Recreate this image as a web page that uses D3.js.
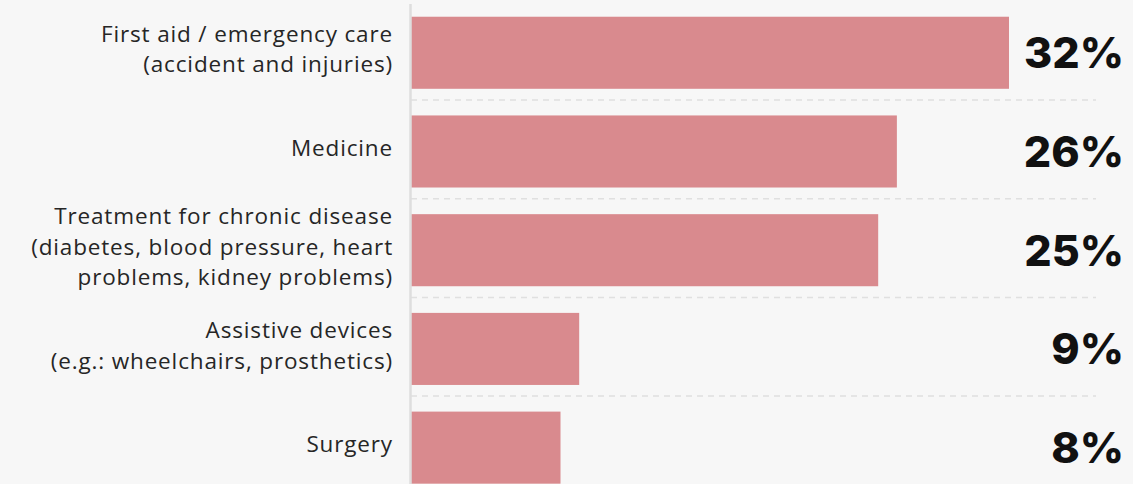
<!DOCTYPE html>
<html>
<head>
<meta charset="utf-8">
<script src="https://cdn.jsdelivr.net/npm/d3@7"></script>
<style>
  html, body { margin: 0; padding: 0; background: #f7f7f7; }
  #chart { width: 1133px; height: 484px; }
</style>
</head>
<body>
<div id="chart"></div>
<script>
// Categories, one entry per bar; each label is split into its display lines
const categories = [
  ['First aid / emergency care', '(accident and injuries)'],
  ['Medicine'],
  ['Treatment for chronic disease', '(diabetes, blood pressure, heart', 'problems, kidney problems)'],
  ['Assistive devices', '(e.g.: wheelchairs, prosthetics)'],
  ['Surgery'],
];
// Share of respondents, percent
const values = [32, 26, 25, 9, 8];

const W = 1133, H = 484;
const rows = categories.map((lines, i) => ({ key: `c${i}`, lines, value: values[i] }));

const svg = d3.select('#chart')
  .append('svg')
  .attr('width', W)
  .attr('height', H)
  .style('display', 'block');

svg.append('rect').attr('width', W).attr('height', H).attr('fill', '#f7f7f7');

// Scales
const x = d3.scaleLinear().domain([0, d3.max(values)]).range([411, 1009]);
const y = d3.scaleBand()
  .domain(rows.map((d) => d.key))
  .range([3.4, 497])
  .paddingInner(0.27)
  .paddingOuter(0.135);

// Dashed separators between rows
const g = svg.append('g');
g.selectAll('.sep')
  .data(rows.slice(1))
  .enter()
  .append('line')
  .attr('x1', x(0)).attr('x2', 1096)
  .attr('y1', (d) => y(d.key) - 15.5)
  .attr('y2', (d) => y(d.key) - 15.5)
  .attr('stroke', '#e0e0e0')
  .attr('stroke-width', 1.5)
  .attr('stroke-dasharray', '6,5');

// Bars
g.selectAll('.bar')
  .data(rows)
  .enter()
  .append('rect')
  .attr('x', x(0))
  .attr('y', (d) => y(d.key))
  .attr('width', (d) => x(d.value) - x(0))
  .attr('height', y.bandwidth())
  .attr('fill', '#d98a8e');

// Vertical axis line
svg.append('line')
  .attr('x1', 410.5).attr('x2', 410.5)
  .attr('y1', 4).attr('y2', H)
  .attr('stroke', '#dedede')
  .attr('stroke-width', 2.5);

// Category labels (multi-line, right aligned)
const lineH = 30.3;
const labels = svg.selectAll('.cat')
  .data(rows)
  .enter()
  .append('text')
  .attr('text-anchor', 'end')
  .attr('font-family', '"Open Sans", sans-serif')
  .attr('font-size', 22.5)
  .attr('font-weight', 400)
  .attr('letter-spacing', 0.85)
  .attr('fill', '#262626');

labels.selectAll('tspan')
  .data((d) => d.lines.map((t, j) => ({
    t,
    yy: y(d.key) + y.bandwidth() / 2 - (d.lines.length - 1) * lineH / 2 + j * lineH + 4.5,
  })))
  .enter()
  .append('tspan')
  .attr('x', 393)
  .attr('y', (d) => d.yy)
  .text((d) => d.t);

// Value labels
svg.selectAll('.val')
  .data(rows)
  .enter()
  .append('text')
  .attr('x', 1124)
  .attr('y', (d) => y(d.key) + y.bandwidth() / 2 + 15.5)
  .attr('text-anchor', 'end')
  .attr('font-family', 'Inter, sans-serif')
  .attr('font-size', 43)
  .attr('font-weight', 800)
  .attr('fill', '#111')
  .text((d) => `${d.value}%`);
</script>
</body>
</html>
